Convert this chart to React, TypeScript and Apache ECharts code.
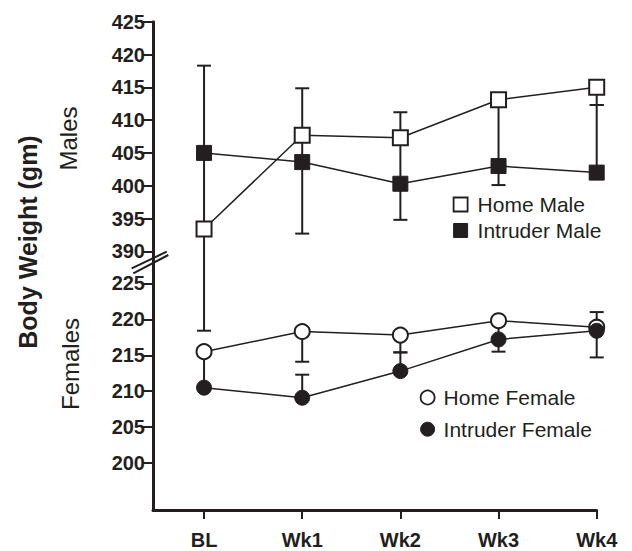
import React, { useEffect, useRef } from "react";
import * as echarts from "echarts";

const categories = ["BL", "Wk1", "Wk2", "Wk3", "Wk4"];

const maleTicks = [390, 395, 400, 405, 410, 415, 420, 425];
const femaleTicks = [200, 205, 210, 215, 220, 225];

const homeMale = [393.4, 407.7, 407.3, 413.1, 415.0];
const homeMaleErrUp = [0, 7.15, 3.9, 0, 0];
const homeMaleErrDown = [15.5, 4.1, 7.0, 10.1, 2.7];

const intruderMale = [405.0, 403.6, 400.3, 403.0, 402.0];
const intruderMaleErrUp = [13.3, 0, 0, 0, 10.3];
const intruderMaleErrDown = [11.6, 10.9, 5.5, 2.9, 0];

const homeFemale = [215.5, 218.3, 217.8, 219.8, 218.9];
const homeFemaleErrUp = [0, 0, 0, 0, 2.1];
const homeFemaleErrDown = [0, 4.2, 2.4, 2.6, 0];

const intruderFemale = [210.5, 209.1, 212.8, 217.2, 218.4];
const intruderFemaleErrUp = [4.5, 3.2, 2.6, 0, 0];
const intruderFemaleErrDown = [0, 0, 0, 1.7, 3.7];

const INK = "#231f20";
const FONT = "'Liberation Sans', Arial, Helvetica, sans-serif";

function pts(vals: number[]) {
  return vals.map((v, i) => [i, v]);
}
function errPts(vals: number[], up: number[], dn: number[]) {
  return vals.map((v, i) => [i, v, up[i], dn[i]]);
}

function renderErr(params: any, api: any) {
  const x = api.value(0);
  const y = api.value(1);
  const up = api.value(2);
  const dn = api.value(3);
  const top = api.coord([x, y + up]);
  const bot = api.coord([x, y - dn]);
  const cap = 7;
  const style = { stroke: INK, lineWidth: 2 };
  const children: any[] = [
    { type: "line", shape: { x1: top[0], y1: top[1], x2: bot[0], y2: bot[1] }, style },
  ];
  if (up > 0)
    children.push({ type: "line", shape: { x1: top[0] - cap, y1: top[1], x2: top[0] + cap, y2: top[1] }, style });
  if (dn > 0)
    children.push({ type: "line", shape: { x1: bot[0] - cap, y1: bot[1], x2: bot[0] + cap, y2: bot[1] }, style });
  return { type: "group", children };
}

export default function App() {
  const ref = useRef<HTMLDivElement>(null);
  useEffect(() => {
    if (!ref.current) return;
    const chart = echarts.init(ref.current, null, { renderer: "svg" });
    const yAxisCommon = {
      type: "value",
      axisLine: { show: true, onZero: false, lineStyle: { color: INK, width: 3 } },
      axisTick: { show: true, length: 10, lineStyle: { color: INK, width: 2 } },
      axisLabel: { color: INK, fontSize: 20, fontWeight: "bold", fontFamily: FONT, margin: 8 },
      splitLine: { show: false },
    };
    const lineCommon = {
      type: "line",
      symbolSize: 15,
      lineStyle: { color: INK, width: 1.5 },
      z: 3,
    };
    const option: any = {
      animation: false,
      backgroundColor: "#fff",
      grid: [
        { left: 153, top: 21.7, width: 443.7, height: 237.3 },
        { left: 153, top: 259, width: 443.7, height: 251 },
      ],
      xAxis: [
        { type: "value", gridIndex: 0, min: -0.52, max: 4, show: false },
        {
          type: "value",
          gridIndex: 1,
          min: -0.52,
          max: 4,
          axisLine: { show: true, onZero: false, lineStyle: { color: INK, width: 3 } },
          axisTick: { show: true, length: 9, customValues: [0, 1, 2, 3, 4], lineStyle: { color: INK, width: 2 } },
          axisLabel: {
            customValues: [0, 1, 2, 3, 4],
            formatter: (v: number) => categories[Math.round(v)] ?? "",
            color: INK,
            fontSize: 20,
            fontWeight: "bold",
            fontFamily: FONT,
            margin: 20,
          },
          splitLine: { show: false },
        },
      ],
      yAxis: [
        {
          ...yAxisCommon,
          gridIndex: 0,
          min: 388.83,
          max: 425,
          axisTick: { ...yAxisCommon.axisTick, customValues: maleTicks },
          axisLabel: { ...yAxisCommon.axisLabel, customValues: maleTicks },
        },
        {
          ...yAxisCommon,
          gridIndex: 1,
          min: 193.5,
          max: 228.375,
          axisTick: { ...yAxisCommon.axisTick, customValues: femaleTicks },
          axisLabel: { ...yAxisCommon.axisLabel, customValues: femaleTicks },
        },
      ],
      legend: [
        {
          orient: "vertical",
          left: 452.7,
          top: 194,
          padding: 0,
          itemWidth: 14,
          itemHeight: 14,
          itemGap: 5,
          selectedMode: false,
          textStyle: { color: INK, fontSize: 21, fontFamily: FONT, lineHeight: 21, padding: [0, 0, 0, 5] },
          data: [
            { name: "Home Male", icon: "rect", itemStyle: { color: "#fff", borderColor: INK, borderWidth: 1.8 } },
            { name: "Intruder Male", icon: "rect", itemStyle: { color: INK, borderColor: INK, borderWidth: 1 } },
          ],
        },
        {
          orient: "vertical",
          left: 419.7,
          top: 387,
          padding: 0,
          itemWidth: 14,
          itemHeight: 14,
          itemGap: 10.7,
          selectedMode: false,
          textStyle: { color: INK, fontSize: 21, fontFamily: FONT, lineHeight: 21, padding: [0, 0, 0, 4] },
          data: [
            { name: "Home Female", icon: "circle", itemStyle: { color: "#fff", borderColor: INK, borderWidth: 1.8 } },
            { name: "Intruder Female", icon: "circle", itemStyle: { color: INK, borderColor: INK, borderWidth: 1 } },
          ],
        },
      ],
      series: [
        {
          type: "custom",
          name: "Male error",
          xAxisIndex: 0,
          yAxisIndex: 0,
          clip: false,
          z: 1,
          silent: true,
          renderItem: renderErr,
          encode: { x: 0, y: 1 },
          data: errPts(homeMale, homeMaleErrUp, homeMaleErrDown).concat(
            errPts(intruderMale, intruderMaleErrUp, intruderMaleErrDown)
          ),
        },
        {
          type: "custom",
          name: "Female error",
          xAxisIndex: 1,
          yAxisIndex: 1,
          clip: false,
          z: 1,
          silent: true,
          renderItem: renderErr,
          encode: { x: 0, y: 1 },
          data: errPts(homeFemale, homeFemaleErrUp, homeFemaleErrDown).concat(
            errPts(intruderFemale, intruderFemaleErrUp, intruderFemaleErrDown)
          ),
        },
        {
          ...lineCommon,
          name: "Home Male",
          xAxisIndex: 0,
          yAxisIndex: 0,
          symbol: "rect",
          itemStyle: { color: "#fff", borderColor: INK, borderWidth: 2 },
          data: pts(homeMale),
        },
        {
          ...lineCommon,
          name: "Intruder Male",
          xAxisIndex: 0,
          yAxisIndex: 0,
          symbol: "rect",
          itemStyle: { color: INK, borderColor: INK, borderWidth: 1 },
          data: pts(intruderMale),
        },
        {
          ...lineCommon,
          name: "Home Female",
          xAxisIndex: 1,
          yAxisIndex: 1,
          symbol: "circle",
          itemStyle: { color: "#fff", borderColor: INK, borderWidth: 2 },
          data: pts(homeFemale),
        },
        {
          ...lineCommon,
          name: "Intruder Female",
          xAxisIndex: 1,
          yAxisIndex: 1,
          symbol: "circle",
          itemStyle: { color: INK, borderColor: INK, borderWidth: 1 },
          data: pts(intruderFemale),
        },
      ],
      graphic: [
        {
          type: "text",
          x: 27.5,
          y: 242,
          rotation: Math.PI / 2,
          style: {
            text: "Body Weight (gm)",
            font: `bold 25px ${FONT}`,
            fill: INK,
            textAlign: "center",
            textVerticalAlign: "middle",
            align: "center",
            verticalAlign: "middle",
          },
        },
        {
          type: "text",
          x: 68.3,
          y: 138.5,
          rotation: Math.PI / 2,
          style: {
            text: "Males",
            font: `24px ${FONT}`,
            fill: INK,
            textAlign: "center",
            textVerticalAlign: "middle",
            align: "center",
            verticalAlign: "middle",
          },
        },
        {
          type: "text",
          x: 70.8,
          y: 364,
          rotation: Math.PI / 2,
          style: {
            text: "Females",
            font: `24px ${FONT}`,
            fill: INK,
            textAlign: "center",
            textVerticalAlign: "middle",
            align: "center",
            verticalAlign: "middle",
          },
        },
        {
          type: "line",
          shape: { x1: 131.7, y1: 268.3, x2: 166.7, y2: 251.7 },
          style: { stroke: INK, lineWidth: 2 },
          z: 10,
        },
        {
          type: "line",
          shape: { x1: 133.3, y1: 273.3, x2: 168.3, y2: 255 },
          style: { stroke: INK, lineWidth: 2 },
          z: 10,
        },
      ],
    };
    chart.setOption(option);
    return () => chart.dispose();
  }, []);
  return (
    <div
      ref={ref}
      style={{ position: "absolute", left: 0, top: 0, width: 632, height: 551, background: "#fff" }}
    />
  );
}
